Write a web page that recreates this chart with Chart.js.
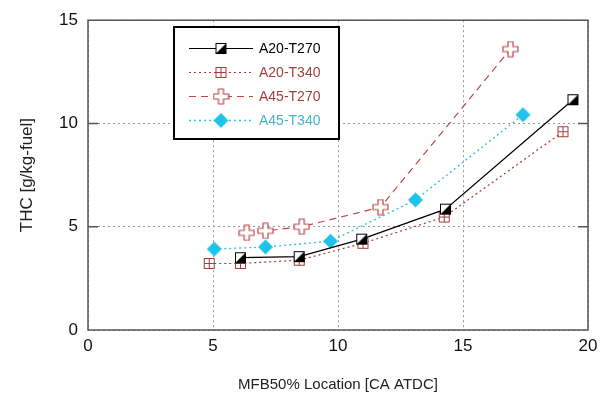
<!DOCTYPE html>
<html>
<head>
<meta charset="utf-8">
<script src="https://cdn.jsdelivr.net/npm/chart.js@4.4.1/dist/chart.umd.min.js"></script>
<style>
  html, body { margin: 0; padding: 0; background: #fff; }
  #wrap { width: 610px; height: 394px; position: relative; }
</style>
</head>
<body>
<div id="wrap"><canvas id="thc-chart"></canvas></div>
<script>
// ---- data ----
const seriesNames = ['A20-T270', 'A20-T340', 'A45-T270', 'A45-T340'];

const a20t270X = [6.1, 8.45, 10.95, 14.3, 19.4];
const a20t270Y = [3.5, 3.55, 4.4, 5.85, 11.15];

const a20t340X = [4.85, 6.1, 8.45, 11.0, 14.25, 19.0];
const a20t340Y = [3.22, 3.22, 3.38, 4.2, 5.47, 9.6];

const a45t270X = [6.35, 7.1, 8.55, 11.7, 16.9];
const a45t270Y = [4.7, 4.8, 5.0, 5.95, 13.6];

const a45t340X = [5.05, 7.1, 9.7, 13.1, 17.4];
const a45t340Y = [3.92, 4.02, 4.3, 6.3, 10.42];

const xTicks = [0, 5, 10, 15, 20];
const yTicks = [0, 5, 10, 15];

const FONT = 'Liberation Sans, Arial, sans-serif';

// ---- marker images ----
function makeMarker(size, draw) {
  const c = document.createElement('canvas');
  c.width = size; c.height = size;
  draw(c.getContext('2d'), size);
  return c;
}

const halfSquare = makeMarker(13, (g, s) => {
  g.fillStyle = '#fff';
  g.fillRect(1, 1, s - 2, s - 2);
  g.fillStyle = '#000';
  g.beginPath();
  g.moveTo(s - 1, 1); g.lineTo(s - 1, s - 1); g.lineTo(1, s - 1);
  g.closePath(); g.fill();
  g.strokeStyle = '#000'; g.lineWidth = 1;
  g.strokeRect(1.5, 1.5, s - 3, s - 3);
});

const crossSquare = makeMarker(13, (g, s) => {
  g.fillStyle = '#fff';
  g.fillRect(1, 1, s - 2, s - 2);
  g.strokeStyle = '#a83a3a'; g.lineWidth = 1;
  g.strokeRect(1.5, 1.5, s - 3, s - 3);
  g.beginPath();
  g.moveTo(s / 2, 1.5); g.lineTo(s / 2, s - 1.5);
  g.moveTo(1.5, s / 2); g.lineTo(s - 1.5, s / 2);
  g.stroke();
});

const plusOutline = makeMarker(17, (g, s) => {
  const a = 2.5, b = 5.5, c = s / 2;
  const pts = [[-a,-b-2],[a,-b-2],[a,-a],[b+2,-a],[b+2,a],[a,a],[a,b+2],[-a,b+2],[-a,a],[-b-2,a],[-b-2,-a],[-a,-a]];
  g.fillStyle = '#fff';
  g.strokeStyle = '#c04848'; g.lineWidth = 1.2;
  g.beginPath();
  pts.forEach((p, i) => i ? g.lineTo(c + p[0], c + p[1]) : g.moveTo(c + p[0], c + p[1]));
  g.closePath(); g.fill(); g.stroke();
});

const diamond = makeMarker(17, (g, s) => {
  const c = s / 2, r = 7.5;
  g.fillStyle = '#1ec3ea';
  g.beginPath();
  g.moveTo(c, c - r); g.lineTo(c + r, c); g.lineTo(c, c + r); g.lineTo(c - r, c);
  g.closePath(); g.fill();
});

const toPts = (xs, ys) => xs.map((x, i) => ({ x, y: ys[i] }));

const datasets = [
  { label: seriesNames[0], data: toPts(a20t270X, a20t270Y), borderColor: '#000', borderWidth: 1.2, borderDash: [], pointStyle: halfSquare, textColor: '#000' },
  { label: seriesNames[1], data: toPts(a20t340X, a20t340Y), borderColor: '#a83a3a', borderWidth: 1.2, borderDash: [2, 3], pointStyle: crossSquare, textColor: '#a04040' },
  { label: seriesNames[2], data: toPts(a45t270X, a45t270Y), borderColor: '#c04848', borderWidth: 1.2, borderDash: [7, 5], pointStyle: plusOutline, textColor: '#a04040' },
  { label: seriesNames[3], data: toPts(a45t340X, a45t340Y), borderColor: '#36c6d8', borderWidth: 1.4, borderDash: [2, 3], pointStyle: diamond, textColor: '#48b4c8' }
].map(d => Object.assign(d, { showLine: true, fill: false, tension: 0, pointRadius: 7, pointHoverRadius: 7 }));

// frame + inward ticks
const framePlugin = {
  id: 'frame',
  afterDatasetsDraw(chart) {
    const { ctx, chartArea: a, scales } = chart;
    ctx.save();
    ctx.strokeStyle = '#555';
    ctx.lineWidth = 1.5;
    ctx.strokeRect(a.left, a.top, a.right - a.left, a.bottom - a.top);
    ctx.beginPath();
    yTicks.slice(1, -1).forEach(v => {
      const y = scales.y.getPixelForValue(v);
      ctx.moveTo(a.left, y); ctx.lineTo(a.left + 10, y);
      ctx.moveTo(a.right, y); ctx.lineTo(a.right - 10, y);
    });
    ctx.stroke();
    ctx.restore();
  }
};

// boxed legend inside the plot
const boxLegend = {
  id: 'boxLegend',
  afterDraw(chart) {
    const { ctx } = chart;
    const bx = 174, by = 27, bw = 165, bh = 112;
    ctx.save();
    ctx.fillStyle = '#fff';
    ctx.fillRect(bx, by, bw, bh);
    ctx.strokeStyle = '#000';
    ctx.lineWidth = 2;
    ctx.strokeRect(bx, by, bw, bh);
    ctx.font = '14px ' + FONT;
    ctx.textBaseline = 'middle';
    chart.data.datasets.forEach((d, i) => {
      const y = 48.5 + i * 24;
      ctx.strokeStyle = d.borderColor;
      ctx.lineWidth = d.borderWidth;
      ctx.setLineDash(d.borderDash);
      ctx.beginPath();
      ctx.moveTo(189, y); ctx.lineTo(253, y);
      ctx.stroke();
      ctx.setLineDash([]);
      const img = d.pointStyle;
      ctx.drawImage(img, 221 - img.width / 2, y - img.height / 2);
      ctx.fillStyle = d.textColor;
      ctx.fillText(d.label, 259, y + 1);
    });
    ctx.restore();
  }
};

new Chart(document.getElementById('thc-chart'), {
  type: 'scatter',
  data: { datasets },
  options: {
    responsive: true,
    maintainAspectRatio: false,
    animation: false,
    layout: { padding: { top: 20, right: 22, left: 0, bottom: 0 } },
    plugins: { legend: { display: false }, tooltip: { enabled: false } },
    scales: {
      x: {
        type: 'linear', min: 0, max: 20,
        afterBuildTicks: s => { s.ticks = xTicks.map(v => ({ value: v })); },
        afterFit: s => { s.height = 64; },
        ticks: { color: '#111', font: { family: FONT, size: 17 }, padding: 6 },
        grid: { color: '#999', lineWidth: 1, drawTicks: false },
        border: { display: false, dash: [2, 3] },
        title: { display: true, text: 'MFB50% Location [CA ATDC]', color: '#222', font: { family: FONT, size: 15 }, padding: { top: 10, bottom: 0 } }
      },
      y: {
        type: 'linear', min: 0, max: 15,
        afterBuildTicks: s => { s.ticks = yTicks.map(v => ({ value: v })); },
        afterFit: s => { s.width = 88; },
        ticks: { color: '#111', font: { family: FONT, size: 17 }, padding: 10 },
        grid: { color: '#999', lineWidth: 1, drawTicks: false },
        border: { display: false, dash: [2, 3] },
        title: { display: true, text: 'THC [g/kg-fuel]', color: '#222', font: { family: FONT, size: 17 }, padding: { top: 17, bottom: 0 } }
      }
    }
  },
  plugins: [framePlugin, boxLegend]
});
</script>
</body>
</html>
